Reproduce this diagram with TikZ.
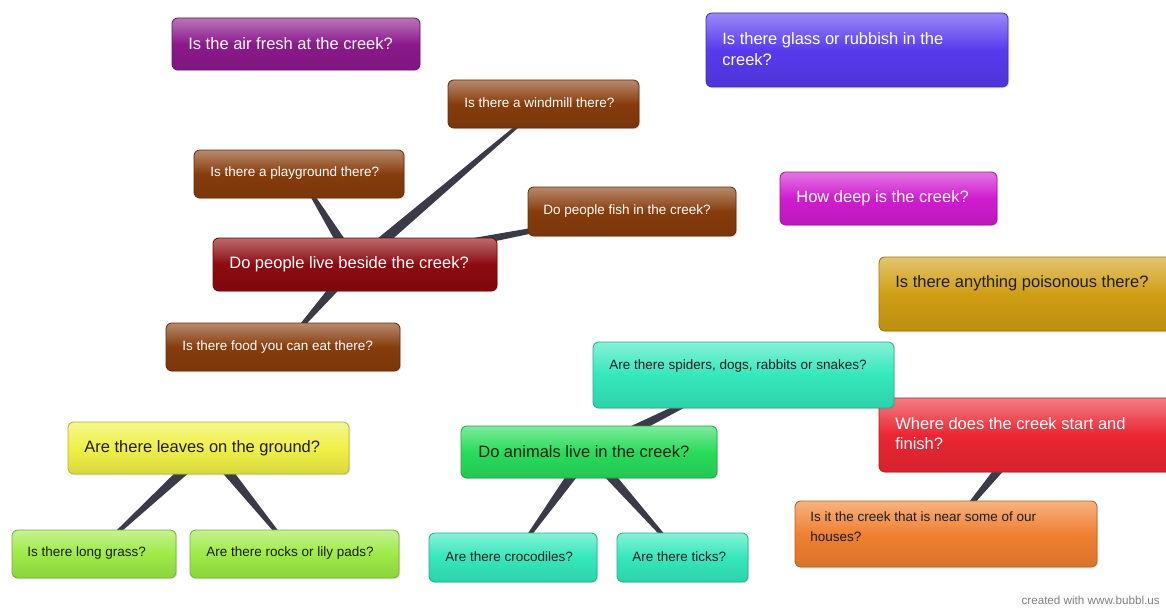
\documentclass[tikz,border=0pt]{standalone}
\usepackage{fontspec}
\setmainfont{Liberation Sans}
\usetikzlibrary{calc,fit,shadows,backgrounds}
\definecolor{cPurple}{RGB}{140,25,140}
\definecolor{cBlue}{RGB}{88,58,238}
\definecolor{cBrown}{RGB}{135,60,12}
\definecolor{cDarkRed}{RGB}{140,10,15}
\definecolor{cMagenta}{RGB}{208,28,208}
\definecolor{cGold}{RGB}{208,158,20}
\definecolor{cTeal}{RGB}{52,232,188}
\definecolor{cRed}{RGB}{235,38,50}
\definecolor{cOrange}{RGB}{240,128,48}
\definecolor{cYellow}{RGB}{240,240,70}
\definecolor{cLime}{RGB}{158,234,70}
\definecolor{cGreen}{RGB}{40,220,90}
\definecolor{cLink}{RGB}{58,58,72}
\definecolor{cDarkText}{RGB}{30,30,30}
\tikzset{
  box/.style={rounded corners=3.5pt, draw=#1!75!black, line width=0.5pt,
    top color=#1!60!white, bottom color=#1!90!black, middle color=#1,
    inner sep=0pt,
    drop shadow={opacity=0.2,shadow xshift=0.8pt,shadow yshift=-0.8pt}},
  bigtxt/.style={font=\fontsize{9.9}{12.3}\selectfont, inner sep=0pt, anchor=west, align=left},
  smalltxt/.style={font=\fontsize{8.1}{12}\selectfont, inner sep=0pt, anchor=west, align=left},
  light/.style={text=white},
  dark/.style={text=cDarkText},
  linkfill/.style={fill=cLink},
}
\newcommand\wedgelink[2]{\fill[linkfill] ($(#1)!3.5pt!90:(#2)$) -- ($(#2)!0.6pt!-90:(#1)$) -- ($(#2)!0.6pt!90:(#1)$) -- ($(#1)!3.5pt!-90:(#2)$) -- cycle;}
\begin{document}
\begin{tikzpicture}[x=0.6pt,y=-0.6pt]
\useasboundingbox (0,0) rectangle (1166,608);
% boxes
\node[box=cPurple, fit={(172,18)(420,70)}] (air) {};
\node[bigtxt,light] (air-t) at (188,44) {Is the air fresh at the creek?};

\node[box=cBlue, fit={(706,13)(1008,87)}] (glass) {};
\node[bigtxt,light] (glass-t) at (722,49) {Is there glass or rubbish in the\\creek?};

\node[box=cBrown, fit={(448,80)(639,128)}] (windmill) {};
\node[smalltxt,light] (windmill-t) at (464,103) {Is there a windmill there?};

\node[box=cBrown, fit={(194,150)(404,198)}] (playground) {};
\node[smalltxt,light] (playground-t) at (210,173) {Is there a playground there?};

\node[box=cBrown, fit={(528,187)(736,236)}] (fish) {};
\node[smalltxt,light] (fish-t) at (543,211) {Do people fish in the creek?};

\node[box=cDarkRed, fit={(213,238)(497,291)}] (people) {};
\node[bigtxt,light] (people-t) at (229,264) {Do people live beside the creek?};

\node[box=cBrown, fit={(166,323)(400,371)}] (food) {};
\node[smalltxt,light] (food-t) at (182,347) {Is there food you can eat there?};

\node[box=cMagenta, fit={(780,172)(997,225)}] (deep) {};
\node[bigtxt,light] (deep-t) at (796,198) {How deep is the creek?};

\node[box=cGold, fit={(879,257)(1176,331)}] (poison) {};
\node[bigtxt,dark] (poison-t) at (895,283) {Is there anything poisonous there?};

\node[box=cRed, fit={(879,398)(1176,472)}] (where) {};
\node[bigtxt,light] (where-t) at (895,433.5) {Where does the creek start and\\finish?};

\node[box=cTeal, fit={(593,342)(894,408)}] (spiders) {};
\node[smalltxt,dark] (spiders-t) at (609,366) {Are there spiders, dogs, rabbits or snakes?};

\node[box=cOrange, fit={(795,501)(1097,567)}] (houses) {};
\node[smalltxt,dark] (houses-t) at (810,527) {Is it the creek that is near some of our\\houses?};

\node[box=cYellow, fit={(68,422)(349,474)}] (leaves) {};
\node[bigtxt,dark] (leaves-t) at (84,448) {Are there leaves on the ground?};

\node[box=cLime, fit={(12,530)(176,578)}] (grass) {};
\node[smalltxt,dark] (grass-t) at (27,553) {Is there long grass?};

\node[box=cLime, fit={(190,530)(399,578)}] (rocks) {};
\node[smalltxt,dark] (rocks-t) at (206,553) {Are there rocks or lily pads?};

\node[box=cGreen, fit={(461,426)(717,478)}] (animals) {};
\node[bigtxt,dark] (animals-t) at (478,452) {Do animals live in the creek?};

\node[box=cTeal, fit={(429,533)(597,582)}] (croc) {};
\node[smalltxt,dark] (croc-t) at (445,557) {Are there crocodiles?};

\node[box=cTeal, fit={(617,533)(748,582)}] (ticks) {};
\node[smalltxt,dark] (ticks-t) at (632,557) {Are there ticks?};

\node[font=\fontsize{7}{8}\selectfont, text=gray, inner sep=0pt, anchor=east] (footer) at (1160,600) {created with www.bubbl.us};

\begin{pgfonlayer}{background}
\fill[white] (0,0) rectangle (1166,608);
\wedgelink{people}{windmill}
\wedgelink{people}{playground}
\wedgelink{people}{fish}
\wedgelink{people}{food}
\wedgelink{leaves}{grass}
\wedgelink{leaves}{rocks}
\wedgelink{animals}{croc}
\wedgelink{animals}{ticks}
\wedgelink{animals}{spiders}
\wedgelink{where}{houses}
\end{pgfonlayer}
\end{tikzpicture}
\end{document}
